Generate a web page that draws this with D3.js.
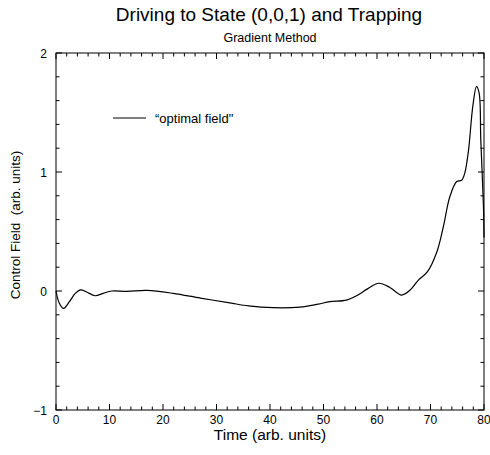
<!DOCTYPE html>
<html><head><meta charset="utf-8">
<script src="https://cdn.jsdelivr.net/npm/d3@7"></script>
<style>body{margin:0;background:#fff}svg{display:block}text{font-family:"Liberation Sans",Arial,sans-serif;fill:#000}</style>
</head><body>
<svg id="c" width="490" height="455"></svg>
<script>
const times = [0,0.6,1.4,2.5,3.6,4.6,5.8,7.3,8.8,10.4,13.3,17,21.9,27,32.5,36,40.6,45.6,49,51.2,54.3,56.2,58.3,60.3,62.4,64.6,66.2,67.7,69.4,71.2,72.4,73.6,74.9,75.8,76.4,77.1,77.9,78.6,79.1,79.4,79.9,80];
const field = [0,-0.10,-0.146,-0.09,-0.02,0.01,-0.01,-0.04,-0.02,0.0,-0.003,0.005,-0.02,-0.06,-0.10,-0.125,-0.14,-0.135,-0.11,-0.09,-0.076,-0.04,0.02,0.065,0.03,-0.034,0.008,0.09,0.16,0.33,0.54,0.79,0.92,0.93,0.99,1.18,1.55,1.72,1.66,1.27,0.71,0.45];
const xTicks = [0,10,20,30,40,50,60,70,80];
const yTicks = [-1,0,1,2];
const title = "Driving to State (0,0,1) and Trapping";
const subtitle = "Gradient Method";
const xLabel = "Time (arb. units)";
const yLabel = "Control Field  (arb. units)";
const legendLabel = "\u201coptimal field\"";

const svg = d3.select("#c");
const L=56, R=484, T=53, B=410;
const x = d3.scaleLinear().domain([0,80]).range([L,R]);
const y = d3.scaleLinear().domain([-1,2]).range([B,T]);

svg.append("rect").attr("x",L).attr("y",T).attr("width",R-L).attr("height",B-T)
  .attr("fill","none").attr("stroke","#000").attr("stroke-width",1);

const g = svg.append("g").attr("stroke","#000").attr("stroke-width",1);
d3.range(0,80.01,2).forEach(v=>{
  const major = v%10===0; const len = major?6:3.5;
  g.append("line").attr("x1",x(v)).attr("x2",x(v)).attr("y1",B).attr("y2",B-len);
  g.append("line").attr("x1",x(v)).attr("x2",x(v)).attr("y1",T).attr("y2",T+len);
});
d3.range(-1,2.001,0.2).forEach(v=>{
  const major = Math.abs(v-Math.round(v))<1e-6; const len = major?6:3.5;
  g.append("line").attr("y1",y(v)).attr("y2",y(v)).attr("x1",L).attr("x2",L+len);
  g.append("line").attr("y1",y(v)).attr("y2",y(v)).attr("x1",R).attr("x2",R-len);
});

xTicks.forEach(v=>{
  svg.append("text").attr("x",x(v)).attr("y",B+14).attr("text-anchor","middle")
    .attr("font-size",12).text(v);
});
yTicks.forEach(v=>{
  svg.append("text").attr("x",L-9).attr("y",y(v)+4.5).attr("text-anchor","end")
    .attr("font-size",12).text(v<0?"\u2212"+Math.abs(v):v);
});

svg.append("text").attr("x",269).attr("y",21).attr("text-anchor","middle").attr("font-size",19).text(title);
svg.append("text").attr("x",270).attr("y",42).attr("text-anchor","middle").attr("font-size",12.5).text(subtitle);
svg.append("text").attr("x",270).attr("y",440).attr("text-anchor","middle").attr("font-size",15.5).text(xLabel);
svg.append("text").attr("transform","translate(20,225) rotate(-90)").attr("text-anchor","middle")
  .attr("font-size",13.5).attr("xml:space","preserve").style("white-space","pre").text(yLabel);

svg.append("line").attr("x1",113).attr("x2",146).attr("y1",118).attr("y2",118).attr("stroke","#000").attr("stroke-width",1.2);
svg.append("text").attr("x",155).attr("y",122.5).attr("font-size",13).text(legendLabel);

const data = times.map((t,i)=>({t, v:field[i]}));
const line = d3.line().x(d=>x(d.t)).y(d=>y(d.v)).curve(d3.curveCatmullRom.alpha(0.5));
svg.append("path").datum(data).attr("d",line).attr("fill","none").attr("stroke","#000").attr("stroke-width",1.2);
</script>
</body></html>
